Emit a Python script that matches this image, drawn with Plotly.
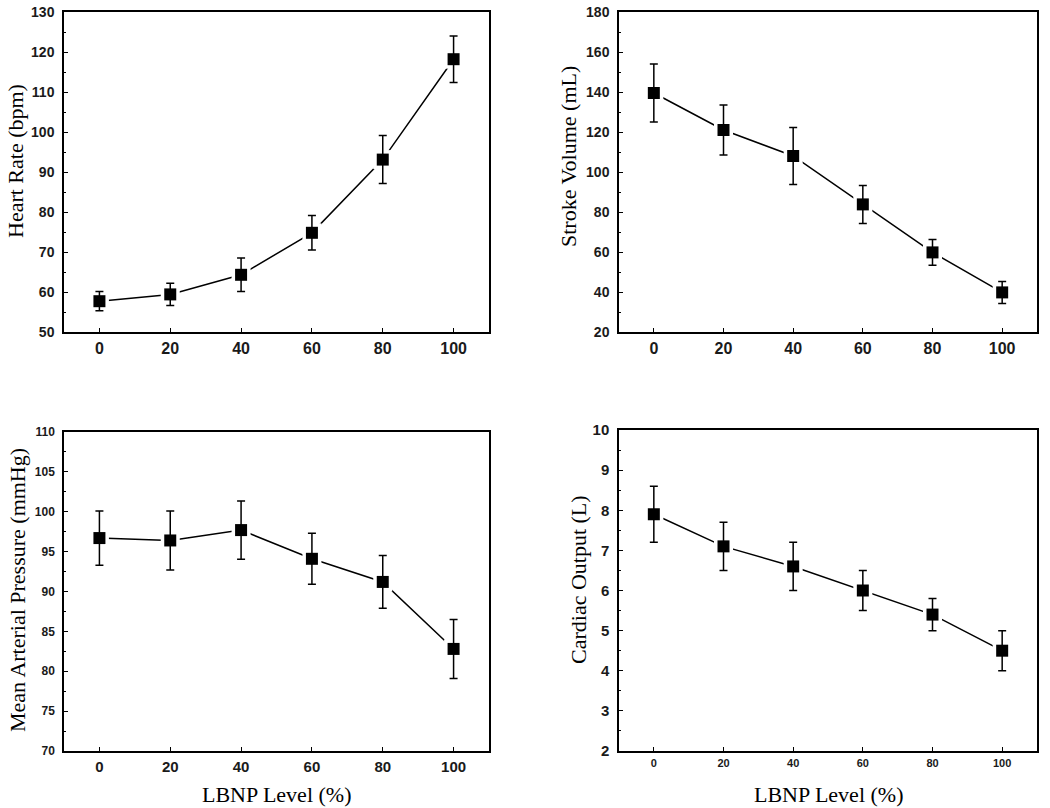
import plotly.graph_objects as go

lbnp = [0, 20, 40, 60, 80, 100]
x_ticks = [0, 20, 40, 60, 80, 100]

hr_mean = [57.7, 59.4, 64.3, 74.8, 93.1, 118.2]
hr_err = [2.4, 2.8, 4.2, 4.3, 6.0, 5.8]

sv_mean = [139.5, 121.0, 108.0, 83.8, 59.8, 39.8]
sv_err = [14.5, 12.5, 14.2, 9.5, 6.4, 5.5]

map_mean = [96.7, 96.4, 97.7, 94.1, 91.2, 82.8]
map_err = [3.4, 3.7, 3.65, 3.2, 3.3, 3.7]

co_mean = [7.9, 7.1, 6.6, 6.0, 5.4, 4.5]
co_err = [0.7, 0.6, 0.6, 0.5, 0.4, 0.5]

titles_y = ["Heart Rate (bpm)", "Stroke Volume (mL)", "Mean Arterial Pressure (mmHg)", "Cardiac Output (L)"]
x_title = "LBNP Level (%)"

W, H = 1050, 808
def px(v):
    return v / W
def py(v):
    return 1 - v / H

panels = [
    # (means, errs, yrange, ytick dtick, xdomain, ydomain, ytick size, xtick size)
    (hr_mean, hr_err, [50, 130], 10, [px(64), px(489)], [py(332), py(12)], 14, 16),
    (sv_mean, sv_err, [20, 180], 20, [px(619), px(1037)], [py(332), py(12)], 14, 16),
    (map_mean, map_err, [70, 110], 5, [px(64), px(489)], [py(751), py(432)], 12, 15),
    (co_mean, co_err, [2, 10], 1, [px(619), px(1037)], [py(751), py(430)], 15, 11),
]

fig = go.Figure()
serif = "Liberation Serif, Times New Roman, serif"
sans = "Liberation Sans, Arial, sans-serif"

for i, (m, e, yr, dt, xd, yd, yfs, xfs) in enumerate(panels):
    n = "" if i == 0 else str(i + 1)
    xa, ya = "x" + n, "y" + n
    # connecting line with white masks around points (gap look)
    fig.add_trace(go.Scatter(
        x=lbnp, y=m, mode="lines+markers", xaxis=xa, yaxis=ya,
        line=dict(color="black", width=1.5),
        marker=dict(symbol="square", size=19, color="white", line=dict(width=0)),
        showlegend=False, hoverinfo="skip"))
    fig.add_trace(go.Scatter(
        x=lbnp, y=m, mode="markers", xaxis=xa, yaxis=ya,
        marker=dict(symbol="square", size=12, color="black", line=dict(width=0)),
        error_y=dict(type="data", array=e, visible=True, color="black", thickness=1.5, width=4),
        showlegend=False))
    axis_common = dict(showline=True, linecolor="black", linewidth=1.5, mirror=True,
                       showgrid=False, zeroline=False, ticks="inside", ticklen=4,
                       tickwidth=1.2, tickcolor="black", automargin=False)
    fig.update_layout(**{
        ("xaxis" + n): dict(domain=xd, range=[-10, 110], tickvals=x_ticks,
                            anchor=ya, ticklabelstandoff=1,
                            tickfont=dict(family=sans, size=xfs, color="#1a1a1a", weight="bold"),
                            **axis_common),
        ("yaxis" + n): dict(domain=yd, range=yr, dtick=dt, tick0=yr[0],
                            anchor=xa, ticklabelstandoff=5,
                            tickfont=dict(family=sans, size=yfs, color="#1a1a1a", weight="bold"),
                            minor=dict(ticks="inside", ticklen=2, tickcolor="black", dtick=dt / 2, tick0=yr[0]),
                            **axis_common),
    })

ann_font = dict(family=serif, size=22, color="black")
ann = [
    dict(text=titles_y[0], x=px(15), y=py(161), textangle=-90),
    dict(text=titles_y[1], x=px(568), y=py(157), textangle=-90),
    dict(text=titles_y[2], x=px(17), y=py(590), textangle=-90),
    dict(text=titles_y[3], x=px(578), y=py(580), textangle=-90),
    dict(text=x_title, x=px(276), y=py(794), textangle=0),
    dict(text=x_title, x=px(828), y=py(794), textangle=0),
]
for a in ann:
    a.update(xref="paper", yref="paper", showarrow=False, font=ann_font,
             xanchor="center", yanchor="middle")

fig.update_layout(width=W, height=H, margin=dict(l=0, r=0, t=0, b=0, autoexpand=False),
                  paper_bgcolor="white", plot_bgcolor="white", annotations=ann)

fig.write_html("out.html", config={"displayModeBar": False},
               post_script="document.body.style.margin='0px';document.body.style.overflow='hidden';")
